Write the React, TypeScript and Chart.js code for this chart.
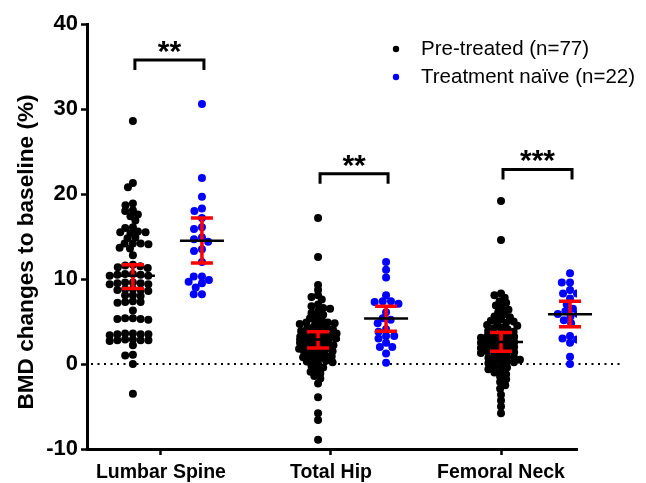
import React, { useEffect, useRef } from "react";
import { Chart, registerables } from "chart.js";

Chart.register(...registerables);

// ---------- data ----------
const categories = ["Lumbar Spine", "Total Hip", "Femoral Neck"];
const seriesNames = ["Pre-treated (n=77)", "Treatment naïve (n=22)"];
const yTickValues = [-10, 0, 10, 20, 30, 40];
const yTitle = "BMD changes to baseline (%)";

const preLumbar = [28.6, 21.3, 20.8, 18.9, 18.7, 18.1, 18.0, 17.6, 17.4, 16.9, 16.1, 16.0, 15.6, 15.5, 15.4, 15.5, 14.9, 14.8, 14.2, 14.2, 14.1, 14.2, 13.7, 13.6, 12.8, 11.7, 11.6, 11.5, 11.4, 11.3, 10.6, 10.5, 10.4, 10.5, 10.6, 10.4, 9.6, 9.5, 9.4, 9.6, 9.5, 9.4, 8.8, 8.7, 8.6, 8.7, 8.8, 8.1, 8.0, 8.1, 7.3, 7.2, 7.4, 7.3, 6.3, 5.4, 5.3, 5.2, 5.3, 5.4, 3.6, 3.5, 3.4, 3.5, 3.6, 3.5, 2.9, 2.8, 2.7, 2.8, 2.9, 2.8, 2.2, 1.1, 1.0, 0.0, -3.5];
const preHip = [17.2, 12.6, 9.3, 8.7, 8.1, 7.9, 7.6, 7.0, 6.8, 6.6, 6.5, 6.2, 6.0, 5.8, 5.6, 5.4, 5.2, 5.0, 4.9, 4.9, 4.8, 4.7, 4.6, 4.4, 4.3, 4.2, 4.1, 4.0, 3.9, 3.8, 3.7, 3.6, 3.5, 3.4, 3.3, 3.2, 3.1, 3.0, 3.0, 2.8, 2.7, 2.6, 2.5, 2.4, 2.3, 2.2, 2.1, 2.0, 1.9, 1.8, 1.7, 1.6, 1.5, 1.4, 1.2, 1.1, 1.0, 0.9, 0.8, 0.7, 0.5, 0.4, 0.3, 0.2, 0.0, -0.2, -0.4, -0.6, -0.9, -1.1, -1.4, -1.7, -2.3, -3.9, -5.8, -6.6, -8.9];
const preNeck = [19.2, 14.6, 8.3, 8.1, 7.8, 7.4, 7.2, 6.9, 6.6, 6.4, 6.1, 5.9, 5.6, 5.5, 5.3, 5.1, 5.0, 4.9, 4.8, 4.6, 4.5, 4.3, 4.2, 4.1, 3.9, 3.8, 3.6, 3.5, 3.4, 3.3, 3.2, 3.1, 3.0, 2.9, 2.8, 2.7, 2.6, 2.5, 2.4, 2.3, 2.2, 2.1, 2.0, 1.9, 1.8, 1.7, 1.6, 1.5, 1.4, 1.3, 1.2, 1.0, 0.9, 0.8, 0.7, 0.6, 0.5, 0.4, 0.3, 0.2, 0.1, -0.1, -0.3, -0.4, -0.6, -0.8, -1.0, -1.2, -1.5, -1.8, -2.1, -2.5, -2.9, -3.6, -4.3, -5.0, -5.8];

const naiveLumbar = [30.6, 21.9, 19.7, 18.3, 18.0, 17.2, 16.1, 15.9, 14.9, 14.7, 14.4, 13.5, 13.3, 12.0, 10.3, 10.3, 9.9, 9.7, 9.5, 9.0, 8.2, 8.2];
const naiveHip = [12.0, 11.1, 10.2, 8.1, 7.4, 7.4, 7.3, 7.1, 6.1, 5.4, 5.2, 4.8, 4.1, 3.8, 3.3, 3.3, 3.0, 2.5, 2.0, 2.0, 1.25, 0.15];
const naiveNeck = [10.7, 9.6, 9.6, 8.7, 8.3, 8.3, 7.7, 7.0, 6.5, 5.9, 5.9, 5.9, 5.6, 5.15, 4.8, 3.3, 3.0, 2.9, 2.5, 0.85, 0.0, 6.2];

const preMean = [10.4, 2.9, 2.6];
const preCiLow = [8.9, 1.9, 1.5];
const preCiHigh = [11.7, 3.8, 3.7];
const naiveMean = [14.5, 5.35, 5.85];
const naiveCiLow = [11.9, 3.85, 4.4];
const naiveCiHigh = [17.2, 6.8, 7.4];

const significance = ["**", "**", "***"];
const bracketY = [35.8, 22.4, 22.9];

// ---------- layout / style ----------
const FONT = "'Liberation Sans', Arial, Helvetica, sans-serif";
const seriesColors = ["#000000", "#0000ff"];
const categoryX = [1, 2, 3];
const preOffset = [-0.165, -0.076, 0.0];
const naiveOffset = [0.241, 0.324, 0.406];
// horizontal / vertical collision distances (px) for the dot swarm
const preSpacingX = [7.8, 7.0, 7.0];
const preSpacingY = [5.5, 5.0, 5.0];
const naiveSpacingX = [8.2, 8.2, 8.2];
const naiveSpacingY = [6.5, 6.5, 6.5];
const X_MIN = 0.565;
const X_MAX = 3.447;
const DOT_R = 4;

function swarm(values: number[], toPx: (v: number) => number, sx: number, sy: number): number[] {
  const order = values.map((_, i) => i).sort((a, b) => values[b] - values[a]);
  const placed: { x: number; y: number }[] = [];
  const out: number[] = new Array(values.length).fill(0);
  for (const i of order) {
    const y = toPx(values[i]);
    const intervals: [number, number][] = [];
    for (const p of placed) {
      const dy = Math.abs(p.y - y) / sy;
      if (dy < 1) {
        const w = sx * Math.sqrt(1 - dy * dy);
        intervals.push([p.x - w, p.x + w]);
      }
    }
    const cands = [0];
    for (const [a, b] of intervals) cands.push(a, b);
    cands.sort((a, b) => Math.abs(a) - Math.abs(b) || a - b);
    let best = 0;
    for (const c of cands) {
      if (intervals.every(([a, b]) => c <= a + 1e-6 || c >= b - 1e-6)) {
        best = c;
        break;
      }
    }
    out[i] = best;
    placed.push({ x: best, y });
  }
  return out;
}

export default function App() {
  const ref = useRef<HTMLCanvasElement>(null);

  useEffect(() => {
    const canvas = ref.current!;
    const preValues = [preLumbar, preHip, preNeck];
    const naiveValues = [naiveLumbar, naiveHip, naiveNeck];

    const overlay = {
      id: "overlay",
      beforeDatasetsDraw(chart: any) {
        const ctx = chart.ctx;
        const xs = chart.scales.x;
        const ys = chart.scales.y;
        const y0 = ys.getPixelForValue(0);
        ctx.save();
        ctx.strokeStyle = "#000";
        ctx.lineWidth = 2;
        ctx.setLineDash([2, 4.5]);
        ctx.beginPath();
        ctx.moveTo(xs.left + 4, y0);
        ctx.lineTo(chart.width - 16, y0);
        ctx.stroke();
        ctx.restore();

        // y-axis title
        ctx.save();
        ctx.fillStyle = "#000";
        ctx.font = `bold 22.6px ${FONT}`;
        ctx.textAlign = "center";
        ctx.textBaseline = "middle";
        ctx.translate(19, 244);
        ctx.rotate(-Math.PI / 2);
        ctx.fillText(yTitle, 0, 0);
        ctx.restore();
      },
      afterDatasetsDraw(chart: any) {
        const ctx = chart.ctx;
        const xs = chart.scales.x;
        const ys = chart.scales.y;
        ctx.save();
        const drawBars = (offsets: number[], means: number[], lo: number[], hi: number[]) => {
          for (let g = 0; g < categories.length; g++) {
            const cx = xs.getPixelForValue(categoryX[g] + offsets[g]);
            const yl = ys.getPixelForValue(lo[g]);
            const yh = ys.getPixelForValue(hi[g]);
            const ym = ys.getPixelForValue(means[g]);
            ctx.strokeStyle = "#ff0000";
            ctx.lineWidth = 3.5;
            ctx.beginPath();
            ctx.moveTo(cx, yl);
            ctx.lineTo(cx, yh);
            ctx.moveTo(cx - 11, yl);
            ctx.lineTo(cx + 11, yl);
            ctx.moveTo(cx - 11, yh);
            ctx.lineTo(cx + 11, yh);
            ctx.stroke();
            ctx.strokeStyle = "#000";
            ctx.lineWidth = 2.5;
            ctx.beginPath();
            ctx.moveTo(cx - 22, ym);
            ctx.lineTo(cx + 22, ym);
            ctx.stroke();
          }
        };
        drawBars(preOffset, preMean, preCiLow, preCiHigh);
        drawBars(naiveOffset, naiveMean, naiveCiLow, naiveCiHigh);

        // significance brackets
        for (let g = 0; g < categories.length; g++) {
          const x1 = xs.getPixelForValue(categoryX[g] + preOffset[g]) + 2;
          const x2 = xs.getPixelForValue(categoryX[g] + naiveOffset[g]) + 2;
          const yb = ys.getPixelForValue(bracketY[g]);
          ctx.strokeStyle = "#000";
          ctx.lineWidth = 3;
          ctx.beginPath();
          ctx.moveTo(x1, yb + 10);
          ctx.lineTo(x1, yb);
          ctx.lineTo(x2, yb);
          ctx.lineTo(x2, yb + 10);
          ctx.stroke();
          ctx.fillStyle = "#000";
          ctx.font = `bold 30px ${FONT}`;
          ctx.textAlign = "center";
          ctx.textBaseline = "alphabetic";
          ctx.fillText(significance[g], (x1 + x2) / 2, yb + 1);
        }

        // legend
        ctx.font = `20.5px ${FONT}`;
        ctx.textAlign = "left";
        ctx.textBaseline = "middle";
        for (let s = 0; s < seriesNames.length; s++) {
          const ly = 41 + s * 28;
          ctx.fillStyle = seriesColors[s];
          ctx.beginPath();
          ctx.arc(388, ly, 3.2, 0, Math.PI * 2);
          ctx.fill();
          ctx.fillStyle = "#000";
          ctx.fillText(seriesNames[s], 413, ly);
        }
        ctx.restore();
      },
    };

    const chart = new Chart(canvas, {
      type: "scatter",
      data: {
        datasets: [
          {
            label: seriesNames[0],
            data: [],
            backgroundColor: seriesColors[0],
            borderColor: seriesColors[0],
            pointRadius: DOT_R,
            pointBorderWidth: 0,
          },
          {
            label: seriesNames[1],
            data: [],
            backgroundColor: seriesColors[1],
            borderColor: seriesColors[1],
            pointRadius: DOT_R,
            pointBorderWidth: 0,
          },
        ],
      },
      options: {
        animation: false,
        responsive: false,
        layout: { padding: { top: 14, right: 61, left: 0, bottom: 0 } },
        plugins: { legend: { display: false }, tooltip: { enabled: false } },
        scales: {
          x: {
            type: "linear",
            min: X_MIN,
            max: X_MAX,
            afterBuildTicks: (scale: any) => {
              scale.ticks = categoryX.map((v) => ({ value: v }));
            },
            afterFit: (scale: any) => {
              scale.height = 34;
            },
            ticks: {
              autoSkip: false,
              maxRotation: 0,
              padding: 6,
              color: "#000",
              font: { family: FONT, size: 19.5, weight: "bold" },
              callback: (v: any) => categories[Math.round(Number(v)) - 1] ?? "",
            },
            grid: {
              display: true,
              drawOnChartArea: false,
              drawTicks: true,
              tickLength: 6,
              tickWidth: 2.5,
              tickColor: "#000",
            },
            border: { display: true, color: "#000", width: 3 },
          },
          y: {
            min: -10,
            max: 40,
            afterBuildTicks: (scale: any) => {
              scale.ticks = yTickValues.map((v) => ({ value: v }));
            },
            afterFit: (scale: any) => {
              scale.width = 79;
            },
            ticks: {
              padding: 3,
              color: "#000",
              font: { family: FONT, size: 22, weight: "bold" },
            },
            grid: {
              display: true,
              drawOnChartArea: false,
              drawTicks: true,
              tickLength: 6,
              tickWidth: 2.5,
              tickColor: "#000",
            },
            border: { display: true, color: "#000", width: 3 },
          },
        },
      },
      plugins: [overlay],
    });

    const xs: any = chart.scales.x;
    const ys: any = chart.scales.y;
    const build = (groups: number[][], offsets: number[], sx: number[], sy: number[]) =>
      groups.flatMap((vals, g) => {
        const cx = xs.getPixelForValue(categoryX[g] + offsets[g]);
        const dx = swarm(vals, (v) => ys.getPixelForValue(v), sx[g], sy[g]);
        return vals.map((v, i) => ({ x: xs.getValueForPixel(cx + dx[i]), y: v }));
      });
    chart.data.datasets[0].data = build(preValues, preOffset, preSpacingX, preSpacingY) as any;
    chart.data.datasets[1].data = build(naiveValues, naiveOffset, naiveSpacingX, naiveSpacingY) as any;
    chart.update();

    return () => chart.destroy();
  }, []);

  return (
    <div style={{ width: 630, height: 475 }}>
      <canvas ref={ref} width={630} height={475} style={{ display: "block" }} />
    </div>
  );
}
